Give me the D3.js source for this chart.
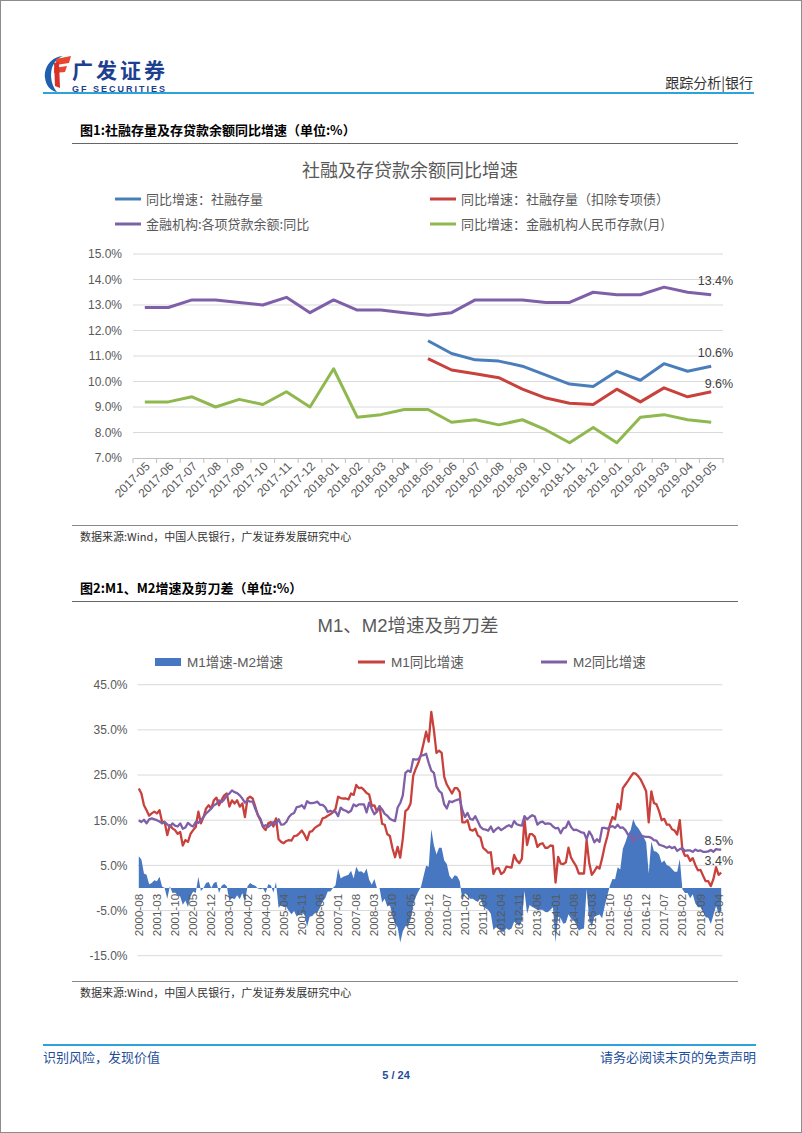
<!DOCTYPE html>
<html><head><meta charset="utf-8">
<script src="https://cdn.jsdelivr.net/npm/d3@7"></script>
<style>
body{margin:0;background:#fff;}
</style></head><body>
<svg id="page" width="802" height="1133"></svg>
<script>
// ---------------- Chart 1 data ----------------
const c1Categories = ["2017-05","2017-06","2017-07","2017-08","2017-09","2017-10","2017-11","2017-12",
  "2018-01","2018-02","2018-03","2018-04","2018-05","2018-06","2018-07","2018-08","2018-09","2018-10",
  "2018-11","2018-12","2019-01","2019-02","2019-03","2019-04","2019-05"];
const c1Tsf = [null,null,null,null,null,null,null,null,null,null,null,null,
  11.6,11.1,10.85,10.8,10.6,10.25,9.9,9.8,10.4,10.05,10.7,10.4,10.6];
const c1TsfExSpecial = [null,null,null,null,null,null,null,null,null,null,null,null,
  10.9,10.45,10.3,10.15,9.7,9.35,9.15,9.1,9.7,9.2,9.75,9.4,9.6];
const c1Loans = [12.9,12.9,13.2,13.2,13.1,13.0,13.3,12.7,13.2,12.8,12.8,12.7,12.6,12.7,13.2,13.2,13.2,13.1,13.1,13.5,13.4,13.4,13.7,13.5,13.4];
const c1Deposits = [9.2,9.2,9.4,9.0,9.3,9.1,9.6,9.0,10.5,8.6,8.7,8.9,8.9,8.4,8.5,8.3,8.5,8.1,7.6,8.2,7.6,8.6,8.7,8.5,8.4];
const c1SeriesNames = ["同比增速：社融存量","同比增速：社融存量（扣除专项债）","金融机构:各项贷款余额:同比","同比增速：金融机构人民币存款(月)"];
const c1YTicks = [7,8,9,10,11,12,13,14,15];

// ---------------- Chart 2 data (2000-08 .. 2019-05) ----------------
const c2M1 = [
  22.0,20.9,18.3,17.2,16.0,
  16.5,16.9,16.5,17.2,14.6,14.6,11.7,13.9,13.2,12.8,12.0,12.4,
  9.4,10.6,10.2,12.0,12.8,13.5,16.9,14.3,15.7,17.6,18.3,17.6,
  19.4,20.0,18.3,19.5,20.5,20.9,18.0,19.4,18.7,19.4,18.0,18.7,
  15.7,19.8,20.2,19.8,18.0,16.1,15.0,13.5,12.8,14.3,14.6,13.6,
  15.4,10.8,10.2,9.9,10.4,10.6,10.5,11.5,11.6,12.1,12.7,11.8,
  10.6,12.4,12.6,13.3,13.7,14.0,15.4,15.6,16.0,16.3,16.8,17.5,
  20.2,19.9,19.8,19.8,19.6,20.9,20.6,22.8,22.1,22.2,21.7,21.0,
  20.7,18.2,18.3,16.9,18.1,14.2,14.0,11.9,11.5,8.8,6.8,9.1,
  6.7,10.9,17.0,17.5,18.7,24.8,26.4,27.7,29.5,32.0,34.6,32.4,
  39.0,35.0,29.9,30.4,29.9,24.6,22.9,21.9,20.9,22.1,22.1,21.2,
  14.5,14.5,15.0,12.9,12.7,13.1,11.6,11.2,8.9,8.4,7.8,7.9,
  3.1,4.3,4.4,3.1,3.5,4.7,4.6,4.5,7.3,6.1,5.5,6.5,
  15.3,9.5,11.9,11.9,11.3,9.1,9.7,9.9,8.9,8.9,9.4,9.3,
  1.2,6.9,5.4,5.3,5.7,8.9,6.7,5.7,4.8,3.2,3.2,3.2,
  10.6,5.6,2.9,3.7,4.7,4.3,6.6,9.3,11.4,14.0,15.7,15.2,
  18.6,17.4,22.1,22.9,23.7,24.6,25.4,25.3,24.7,23.9,22.7,21.4,
  14.5,21.4,18.8,18.5,17.0,15.0,15.3,14.0,14.0,13.0,12.7,11.8,
  15.0,8.5,7.1,7.2,6.0,6.6,5.1,3.9,4.0,2.7,1.5,1.5,
  0.4,2.0,4.6,2.9,3.4
];
const c2M2 = [
  15.0,14.6,15.1,14.3,15.2,
  15.4,15.2,15.0,14.7,14.3,14.6,14.1,13.5,14.3,13.8,13.6,14.3,
  13.1,13.4,14.4,13.9,13.6,14.6,14.4,15.0,15.7,16.5,17.0,17.6,
  18.3,18.6,19.4,19.0,19.6,20.5,20.9,21.6,21.2,21.0,20.5,19.8,
  18.9,19.4,19.1,19.1,17.5,16.2,15.3,13.6,13.9,13.5,14.0,14.6,
  14.1,15.2,14.0,14.1,14.6,15.7,16.3,16.6,17.9,18.0,18.3,17.6,
  19.2,18.8,18.8,18.9,19.1,18.4,18.4,17.9,16.8,17.1,16.8,16.9,
  15.9,17.8,17.3,17.1,16.7,17.1,18.5,18.1,18.5,18.5,18.5,16.7,
  18.9,17.5,16.3,16.9,18.1,17.4,16.4,16.0,15.3,15.0,14.8,17.8,
  18.8,20.5,25.5,26.0,25.7,28.5,28.4,28.5,29.3,29.4,29.7,27.7,
  26.0,25.5,22.5,21.5,21.0,18.5,17.6,19.2,19.0,19.3,19.5,19.7,
  17.2,15.7,16.6,15.3,15.1,15.9,14.7,13.5,13.0,12.9,12.7,13.6,
  12.4,13.0,13.4,12.8,13.2,13.6,13.9,13.5,14.8,14.1,13.9,13.8,
  15.9,15.2,15.7,16.1,15.8,14.0,14.5,14.7,14.2,14.3,14.2,13.6,
  13.2,13.3,12.1,13.2,13.4,14.7,13.5,12.8,12.9,12.6,12.3,12.2,
  10.8,12.5,11.6,10.1,10.8,10.2,13.3,13.3,13.1,13.5,13.7,13.3,
  14.0,13.3,13.4,12.8,11.8,11.8,10.2,11.4,11.5,11.6,11.4,11.3,
  11.3,11.1,10.6,10.5,9.6,9.4,9.2,8.9,9.2,8.8,9.1,8.2,
  8.6,8.8,8.2,8.3,8.3,8.0,8.5,8.2,8.3,8.0,8.0,8.1,
  8.4,8.0,8.6,8.5,8.5
];
const c2TickLabels = ["2000-08","2001-03","2001-10","2002-05","2002-12","2003-07","2004-02","2004-09",
  "2005-04","2005-11","2006-06","2007-01","2007-08","2008-03","2008-10","2009-05","2009-12","2010-07",
  "2011-02","2011-09","2012-04","2012-11","2013-06","2014-01","2014-08","2015-03","2015-10","2016-05",
  "2016-12","2017-07","2018-02","2018-09","2019-04"];
const c2SeriesNames = ["M1增速-M2增速","M1同比增速","M2同比增速"];
const c2YTicks = [-15,-5,5,15,25,35,45];

// ---------------- drawing ----------------
const W = 802, H = 1133;
const fNum = "'Liberation Sans', Arial, 'Noto Sans CJK SC', sans-serif";
const fCjk = "'Noto Sans CJK SC', 'Liberation Sans', sans-serif";
const BLUE = "#4a7ebb", RED = "#c8413c", PURPLE = "#7f60a8", GREEN = "#8fb84f", BAR = "#4677c0";
const TXT = "#595959", GRID = "#d9d9d9";
const svg = d3.select("#page");

svg.append("rect").attr("x",0.5).attr("y",0.5).attr("width",W-1).attr("height",H-1)
  .attr("fill","#fff").attr("stroke","#8c8c8c").attr("stroke-width",1);

// header logo
const logo = svg.append("g");
logo.append("path").attr("d","M63,56 C51,57 44,67 45,78 C46,86 51,91 57,92 C51,85 50,75 52,68 C54,62 58,58 63,56 Z").attr("fill","#1f5fae");
logo.append("path").attr("d","M56,59 L71,56 L69,63 L56,65 Z").attr("fill","#e8462e");
logo.append("path").attr("d","M54,68 L67,66 L65,72 L54,73 Z").attr("fill","#e8462e");
logo.append("path").attr("d","M54,63 L59,62 L60,88 L55,86 Z").attr("fill","#d7322a");
logo.append("text").attr("x",72).attr("y",78).attr("font-family",fCjk).attr("font-weight","bold")
  .attr("font-size",21).attr("fill","#1d3f8f").attr("textLength",93).text("广发证券");
logo.append("text").attr("x",72).attr("y",91.5).attr("font-family",fNum).attr("font-weight","bold")
  .attr("font-size",9).attr("fill","#1d3f8f").attr("textLength",93).text("GF SECURITIES");
svg.append("text").attr("x",753).attr("y",88).attr("text-anchor","end").attr("font-family",fCjk)
  .attr("font-size",14).attr("fill","#333").text("跟踪分析|银行");
svg.append("line").attr("x1",43).attr("x2",754).attr("y1",93).attr("y2",93)
  .attr("stroke","#2ea3db").attr("stroke-width",2.2);

// footer
svg.append("line").attr("x1",43).attr("x2",756).attr("y1",1045).attr("y2",1045)
  .attr("stroke","#2ea3db").attr("stroke-width",2);
svg.append("text").attr("x",43).attr("y",1062).attr("font-family",fCjk).attr("font-size",13)
  .attr("fill","#1f4e9a").text("识别风险，发现价值");
svg.append("text").attr("x",756).attr("y",1062).attr("text-anchor","end").attr("font-family",fCjk).attr("font-size",13)
  .attr("fill","#1f4e9a").text("请务必阅读末页的免责声明");
svg.append("text").attr("x",396).attr("y",1079).attr("text-anchor","middle").attr("font-family",fNum)
  .attr("font-weight","bold").attr("font-size",11).attr("fill","#1f4e9a").text("5 / 24");

function figTitle(y, txt){
  svg.append("text").attr("x",80).attr("y",y).attr("font-family",fCjk).attr("font-weight","bold")
    .attr("font-size",13).attr("fill","#000").text(txt);
  svg.append("line").attr("x1",72).attr("x2",738).attr("y1",y+8.5).attr("y2",y+8.5)
    .attr("stroke","#666").attr("stroke-width",1.2);
}
function source(y){
  svg.append("line").attr("x1",72).attr("x2",738).attr("y1",y-15.5).attr("y2",y-15.5)
    .attr("stroke","#888").attr("stroke-width",1);
  svg.append("text").attr("x",80).attr("y",y).attr("font-family",fCjk).attr("font-size",11)
    .attr("fill","#333").text("数据来源:Wind，中国人民银行，广发证券发展研究中心");
}

// ===== Chart 1 =====
figTitle(135, "图1:社融存量及存贷款余额同比增速（单位:%）");
svg.append("text").attr("x",410).attr("y",177).attr("text-anchor","middle").attr("font-family",fCjk)
  .attr("font-size",18).attr("fill",TXT).text("社融及存贷款余额同比增速");

const c1Colors = [BLUE, RED, PURPLE, GREEN];
const c1Legend = [[115,199],[430,199],[115,224],[430,224]];
c1SeriesNames.forEach((n,i)=>{
  const [lx,ly] = c1Legend[i];
  svg.append("line").attr("x1",lx).attr("x2",lx+26).attr("y1",ly).attr("y2",ly)
    .attr("stroke",c1Colors[i]).attr("stroke-width",3);
  svg.append("text").attr("x",lx+31).attr("y",ly+4.5).attr("font-family",fCjk).attr("font-size",13)
    .attr("fill",TXT).text(n);
});

const x1 = d3.scaleBand().domain(c1Categories).range([133,723]).padding(0);
const y1 = d3.scaleLinear().domain([7,15]).range([458,254]);
const c1cx = d => x1(d) + x1.bandwidth()/2;

const g1 = svg.append("g");
g1.selectAll("line.grid").data(c1YTicks.slice(1)).join("line")
  .attr("x1",133).attr("x2",723).attr("y1",d=>y1(d)).attr("y2",d=>y1(d))
  .attr("stroke",GRID).attr("stroke-width",1);
const ya1 = g1.append("g").attr("transform","translate(133,0)")
  .call(d3.axisLeft(y1).tickValues(c1YTicks).tickFormat(d=>d.toFixed(1)+"%").tickSize(0).tickPadding(11));
ya1.select(".domain").remove();
ya1.selectAll("text").attr("font-family",fNum).attr("font-size",12).attr("fill",TXT);
const xa1 = g1.append("g").attr("transform","translate(0,458)")
  .call(d3.axisBottom(x1).tickSize(0).tickPadding(0));
xa1.select(".domain").attr("stroke","#bfbfbf").attr("stroke-width",1);
xa1.selectAll("text").attr("font-family",fNum).attr("font-size",12).attr("fill",TXT)
  .attr("text-anchor","end").attr("dy",0)
  .attr("transform","translate(6,9) rotate(-45)");
g1.selectAll("line.tk").data(c1Categories.concat(["__end"])).join("line")
  .attr("x1",(d,i)=>x1.range()[0]+i*x1.step()).attr("x2",(d,i)=>x1.range()[0]+i*x1.step())
  .attr("y1",458).attr("y2",463).attr("stroke","#bfbfbf");

const line1 = d3.line().defined(d=>d.v!=null).x(d=>c1cx(d.c)).y(d=>y1(d.v));
[c1Tsf, c1TsfExSpecial, c1Loans, c1Deposits].forEach((arr,i)=>{
  const pts = arr.map((v,j)=>({c:c1Categories[j], v}));
  g1.append("path").attr("d",line1(pts)).attr("fill","none").attr("stroke",c1Colors[i])
    .attr("stroke-width",3).attr("stroke-linejoin","round");
});
const lastC1 = c1Categories[c1Categories.length-1];
[[c1Loans, 9.5],[c1Tsf, 9.5],[c1TsfExSpecial, 4.2]].forEach(([arr,off])=>{
  const v = arr[arr.length-1];
  g1.append("text").attr("x",c1cx(lastC1)+22).attr("y",y1(v)-off).attr("text-anchor","end")
    .attr("font-family",fNum).attr("font-size",12.5).attr("fill","#404040").text(v.toFixed(1)+"%");
});
source(541);

// ===== Chart 2 =====
figTitle(593, "图2:M1、M2增速及剪刀差（单位:%）");
svg.append("text").attr("x",408).attr("y",632).attr("text-anchor","middle").attr("font-family",fNum)
  .attr("font-size",18.5).attr("fill",TXT).text("M1、M2增速及剪刀差");

svg.append("rect").attr("x",155).attr("y",658).attr("width",26).attr("height",8).attr("fill",BAR);
svg.append("text").attr("x",187).attr("y",667).attr("font-family",fNum).attr("font-size",13.5).attr("fill",TXT).text(c2SeriesNames[0]);
svg.append("line").attr("x1",358).attr("x2",385).attr("y1",662).attr("y2",662).attr("stroke",RED).attr("stroke-width",3);
svg.append("text").attr("x",391).attr("y",667).attr("font-family",fNum).attr("font-size",13.5).attr("fill",TXT).text(c2SeriesNames[1]);
svg.append("line").attr("x1",541).attr("x2",567).attr("y1",662).attr("y2",662).attr("stroke",PURPLE).attr("stroke-width",3);
svg.append("text").attr("x",573).attr("y",667).attr("font-family",fNum).attr("font-size",13.5).attr("fill",TXT).text(c2SeriesNames[2]);

const c2Months = d3.timeMonth.range(new Date(2000,7,1), new Date(2019,5,1)).map(d3.timeFormat("%Y-%m"));
const c2Gap = c2M1.map((v,i)=>v - c2M2[i]);
const x2 = d3.scaleBand().domain(c2Months).range([137.5,722.5]).padding(0);
const y2 = d3.scaleLinear().domain([-15,45]).range([955.7,684.7]);
const c2cx = d => x2(d) + x2.bandwidth()/2;

const g2 = svg.append("g");
g2.selectAll("line.grid").data(c2YTicks).join("line")
  .attr("x1",137.5).attr("x2",722.5).attr("y1",d=>y2(d)).attr("y2",d=>y2(d))
  .attr("stroke",GRID).attr("stroke-width",1);
const ya2 = g2.append("g").attr("transform","translate(137.5,0)")
  .call(d3.axisLeft(y2).tickValues(c2YTicks).tickFormat(d=>d.toFixed(1)+"%").tickSize(0).tickPadding(10));
ya2.select(".domain").remove();
ya2.selectAll("text").attr("font-family",fNum).attr("font-size",12).attr("fill",TXT);

// gap area (M1 - M2)
const gapArea = d3.area()
  .x((d,i)=>c2cx(c2Months[i]))
  .y0(y2(0))
  .y1(d=>y2(d));
g2.append("path").attr("d",gapArea(c2Gap)).attr("fill",BAR);

const xa2 = g2.append("g").attr("transform",`translate(0,${y2(0)})`)
  .call(d3.axisBottom(x2).tickValues(c2TickLabels).tickSize(0).tickPadding(0));
xa2.select(".domain").remove();
xa2.selectAll("text").attr("font-family",fNum).attr("font-size",11.5).attr("fill",TXT)
  .attr("text-anchor","end").attr("dy","0.35em").attr("y",0)
  .attr("transform","translate(0,6) rotate(-90)");

const line2 = d3.line().x((d,i)=>c2cx(c2Months[i])).y(d=>y2(d));
g2.append("path").attr("d",line2(c2M1)).attr("fill","none").attr("stroke",RED).attr("stroke-width",2.3).attr("stroke-linejoin","round");
g2.append("path").attr("d",line2(c2M2)).attr("fill","none").attr("stroke",PURPLE).attr("stroke-width",2.3).attr("stroke-linejoin","round");

[[c2M2, 4.5],[c2M1, 8]].forEach(([arr,off])=>{
  const v = arr[arr.length-1];
  g2.append("text").attr("x",733).attr("y",y2(v)-off).attr("text-anchor","end")
    .attr("font-family",fNum).attr("font-size",12.5).attr("fill","#404040").text(v.toFixed(1)+"%");
});
source(997);
</script>
</body></html>
